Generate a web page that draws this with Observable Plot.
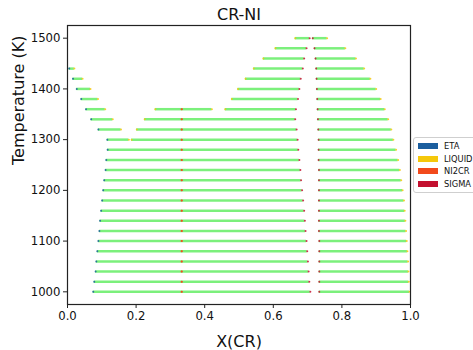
<!DOCTYPE html>
<html>
<head>
<meta charset="utf-8">
<script src="https://cdn.jsdelivr.net/npm/d3@7"></script>
<script src="https://cdn.jsdelivr.net/npm/@observablehq/plot@0.6"></script>
<style>
  body { margin: 0; background: #fff; font-family: "DejaVu Sans", sans-serif; }
  #wrap { position: relative; width: 473px; height: 350px; overflow: hidden; }
  #legend { position: absolute; left: 413px; top: 137px; width: 80px; height: 56px;
            border: 1px solid #cfcfcf; border-radius: 3px; background: #fff; box-sizing: border-box; }
  .lg { position: absolute; left: 4px; font-size: 8.3px; color: #111; line-height: 10px; }
  .lg span.sw { position: absolute; left: 0; top: 2px; width: 20px; height: 6px; }
  .lg span.tx { position: absolute; left: 26px; top: 0; white-space: nowrap; }
</style>
</head>
<body>
<div id="wrap"><div id="legend"></div></div>
<script>
// ---- data: tie lines (temperature, two end compositions, two end phases) ----
const phases = ["ETA", "LIQUID", "NI2CR", "SIGMA"];
const phaseColors = ["#1b5e9e", "#f5c80a", "#f24a1c", "#c3102f"];

const tieT = [
  1000,1000,1000, 1020,1020,1020, 1040,1040,1040, 1060,1060,1060, 1080,1080,1080,
  1100,1100,1100, 1120,1120,1120, 1140,1140,1140, 1160,1160,1160, 1180,1180,1180,
  1200,1200,1200, 1220,1220,1220, 1240,1240,1240, 1260,1260,1260, 1280,1280,1280,
  1300,1300,1300,1300, 1320,1320,1320,1320, 1340,1340,1340,1340,
  1360,1360,1360,1360,1360, 1380,1380,1380, 1400,1400,1400, 1420,1420,1420,
  1440,1440,1440, 1460,1460, 1480,1480, 1500,1500
];
const tieX1 = [
  0.075,0.333,0.734, 0.078,0.333,0.734, 0.082,0.333,0.734, 0.084,0.333,0.734, 0.087,0.333,0.734,
  0.090,0.333,0.734, 0.093,0.333,0.733, 0.095,0.333,0.733, 0.098,0.333,0.733, 0.101,0.333,0.733,
  0.104,0.333,0.733, 0.107,0.333,0.733, 0.111,0.333,0.733, 0.113,0.333,0.732, 0.117,0.333,0.732,
  0.116,0.187,0.333,0.732, 0.090,0.202,0.333,0.731, 0.069,0.225,0.333,0.730,
  0.054,0.256,0.333,0.460,0.729, 0.040,0.479,0.728, 0.027,0.497,0.727, 0.016,0.519,0.726,
  0.005,0.543,0.725, 0.571,0.723, 0.606,0.720, 0.664,0.715
];
const tieX2 = [
  0.333,0.708,0.997, 0.333,0.705,0.995, 0.333,0.703,0.994, 0.333,0.701,0.993, 0.333,0.699,0.991,
  0.333,0.697,0.989, 0.333,0.694,0.987, 0.333,0.692,0.985, 0.333,0.690,0.983, 0.333,0.687,0.981,
  0.333,0.684,0.977, 0.333,0.681,0.973, 0.333,0.679,0.969, 0.333,0.676,0.964, 0.333,0.673,0.958,
  0.179,0.333,0.671,0.950, 0.156,0.333,0.668,0.944, 0.132,0.333,0.664,0.935,
  0.110,0.333,0.421,0.666,0.925, 0.089,0.672,0.913, 0.067,0.676,0.900, 0.044,0.680,0.883,
  0.020,0.686,0.865, 0.690,0.841, 0.697,0.810, 0.706,0.757
];
const tieP1 = [
  "ETA","NI2CR","SIGMA", "ETA","NI2CR","SIGMA", "ETA","NI2CR","SIGMA", "ETA","NI2CR","SIGMA", "ETA","NI2CR","SIGMA",
  "ETA","NI2CR","SIGMA", "ETA","NI2CR","SIGMA", "ETA","NI2CR","SIGMA", "ETA","NI2CR","SIGMA", "ETA","NI2CR","SIGMA",
  "ETA","NI2CR","SIGMA", "ETA","NI2CR","SIGMA", "ETA","NI2CR","SIGMA", "ETA","NI2CR","SIGMA", "ETA","NI2CR","SIGMA",
  "ETA","LIQUID","NI2CR","SIGMA", "ETA","LIQUID","NI2CR","SIGMA", "ETA","LIQUID","NI2CR","SIGMA",
  "ETA","LIQUID","NI2CR","LIQUID","SIGMA", "ETA","LIQUID","SIGMA", "ETA","LIQUID","SIGMA", "ETA","LIQUID","SIGMA",
  "ETA","LIQUID","SIGMA", "LIQUID","SIGMA", "LIQUID","SIGMA", "LIQUID","SIGMA"
];
const tieP2 = [
  "NI2CR","SIGMA","LIQUID", "NI2CR","SIGMA","LIQUID", "NI2CR","SIGMA","LIQUID", "NI2CR","SIGMA","LIQUID", "NI2CR","SIGMA","LIQUID",
  "NI2CR","SIGMA","LIQUID", "NI2CR","SIGMA","LIQUID", "NI2CR","SIGMA","LIQUID", "NI2CR","SIGMA","LIQUID", "NI2CR","SIGMA","LIQUID",
  "NI2CR","SIGMA","LIQUID", "NI2CR","SIGMA","LIQUID", "NI2CR","SIGMA","LIQUID", "NI2CR","SIGMA","LIQUID", "NI2CR","SIGMA","LIQUID",
  "LIQUID","NI2CR","SIGMA","LIQUID", "LIQUID","NI2CR","SIGMA","LIQUID", "LIQUID","NI2CR","SIGMA","LIQUID",
  "LIQUID","NI2CR","LIQUID","SIGMA","LIQUID", "LIQUID","SIGMA","LIQUID", "LIQUID","SIGMA","LIQUID", "LIQUID","SIGMA","LIQUID",
  "LIQUID","SIGMA","LIQUID", "SIGMA","LIQUID", "SIGMA","LIQUID", "SIGMA","LIQUID"
];

const xTicks = [0, 0.2, 0.4, 0.6, 0.8, 1.0];
const yTicks = [1000, 1100, 1200, 1300, 1400, 1500];
const titleText = "CR-NI";
const xLabel = "X(CR)";
const yLabel = "Temperature (K)";

// ---- build tables ----
const ties = tieT.map((t, i) => ({T: t, x1: tieX1[i], x2: tieX2[i]}));
const ends = [];
tieT.forEach((t, i) => {
  ends.push({T: t, x: tieX1[i], phase: tieP1[i]});
  ends.push({T: t, x: tieX2[i], phase: tieP2[i]});
});

const font = "DejaVu Sans, sans-serif";
const chart = Plot.plot({
  width: 473,
  height: 350,
  marginLeft: 67,
  marginRight: 63,
  marginTop: 25,
  marginBottom: 46,
  style: {fontFamily: font, fontSize: "11.7px", color: "#111", background: "transparent"},
  x: {domain: [0, 1]},
  y: {domain: [975, 1525]},
  color: {domain: phases, range: phaseColors},
  marks: [
    Plot.ruleY(ties, {y: "T", x1: "x1", x2: "x2", stroke: "#7cf07c", strokeWidth: 2.5}),
    Plot.dot(ends, {x: "x", y: "T", fill: "phase", r: 1.0, fillOpacity: 0.85}),
    Plot.frame({stroke: "#222", strokeWidth: 1.2}),
    Plot.axisX({ticks: xTicks, tickFormat: d3.format(".1f"), tickSize: 4, tickPadding: 3, label: null, stroke: "#222"}),
    Plot.axisY({ticks: yTicks, tickSize: 4, tickPadding: 3, label: null, tickFormat: d => String(d), stroke: "#222"}),
    Plot.text([titleText], {text: d => d, frameAnchor: "top", dy: -11, fontSize: 16, lineAnchor: "middle"}),
    Plot.text([xLabel], {text: d => d, frameAnchor: "bottom", dy: 37, fontSize: 16, lineAnchor: "middle"}),
    Plot.text([yLabel], {text: d => d, frameAnchor: "left", dx: -49, rotate: -90, fontSize: 16, lineAnchor: "middle"})
  ]
});
document.getElementById("wrap").insertBefore(chart, document.getElementById("legend"));
chart.style.position = "absolute";
chart.style.left = "0";
chart.style.top = "0";

// ---- legend ----
const legend = document.getElementById("legend");
phases.forEach((p, i) => {
  const row = document.createElement("div");
  row.className = "lg";
  row.style.top = (3 + i * 12.7) + "px";
  row.innerHTML = `<span class="sw" style="background:${phaseColors[i]}"></span><span class="tx">${p}</span>`;
  legend.appendChild(row);
});
</script>
</body>
</html>
